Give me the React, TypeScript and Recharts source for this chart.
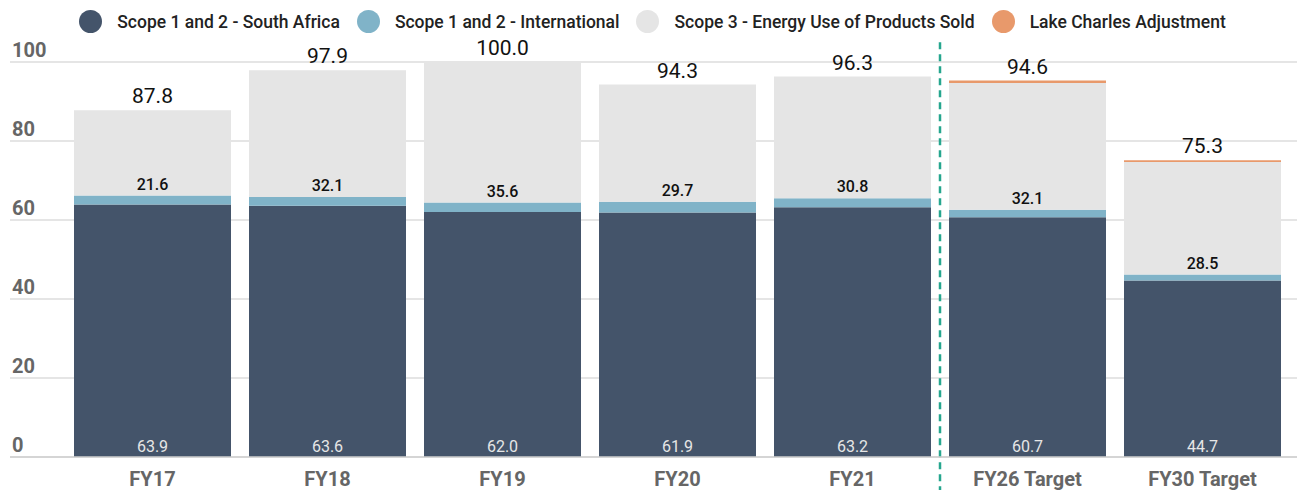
import React from 'react';
import {
	BarChart,
	Bar,
	XAxis,
	YAxis,
	CartesianGrid,
	Legend,
	LabelList,
	ReferenceLine,
} from 'recharts';

const categories = ['FY17', 'FY18', 'FY19', 'FY20', 'FY21', 'FY26 Target', 'FY30 Target'];
const southAfrica = [63.9, 63.6, 62.0, 61.9, 63.2, 60.7, 44.7];
const international = [2.3, 2.2, 2.4, 2.7, 2.3, 1.9, 1.5];
const scope3 = [21.6, 32.1, 35.6, 29.7, 30.8, 32.1, 28.5];
const lakeCharles = [0, 0, 0, 0, 0, 0.6, 0.4];
const totals = [87.8, 97.9, 100.0, 94.3, 96.3, 94.6, 75.3];
const yTicks = [0, 20, 40, 60, 80, 100];

const series = [
	{ key: 'sa', name: 'Scope 1 and 2 - South Africa', color: '#44546a' },
	{ key: 'intl', name: 'Scope 1 and 2 - International', color: '#80b3c8' },
	{ key: 'scope3', name: 'Scope 3 - Energy Use of Products Sold', color: '#e5e5e5' },
	{ key: 'lake', name: 'Lake Charles Adjustment', color: '#e8996b' },
];

const data = categories.map((name, i) => ({
	name,
	sa: southAfrica[i],
	intl: international[i],
	scope3: scope3[i],
	lake: lakeCharles[i],
	total: totals[i],
}));

const FONT = 'Roboto, "Noto Sans", sans-serif';

// legend row across the top
const TopLegend = () => (
	<div
		style={{
			height: 62,
			display: 'flex',
			justifyContent: 'center',
			alignItems: 'flex-start',
			paddingTop: 10,
			paddingLeft: 8,
			boxSizing: 'border-box',
			fontFamily: FONT,
		}}
	>
		{series.map((s, i) => (
			<div
				key={s.key}
				style={{ display: 'flex', alignItems: 'center', marginRight: i < series.length - 1 ? 17 : 0 }}
			>
				<div
					style={{
						width: 23,
						height: 23,
						borderRadius: '50%',
						background: s.color,
						marginRight: 15,
					}}
				/>
				<span style={{ fontSize: 17.5, color: '#222', fontWeight: 500 }}>{s.name}</span>
			</div>
		))}
	</div>
);

const YTick = (props: any) => {
	const { y, payload } = props;
	return (
		<text x={12} y={y - 5} fill='#666' fontSize={20} fontWeight={700} fontFamily={FONT} textAnchor='start'>
			{payload.value}
		</text>
	);
};

const XTick = (props: any) => {
	const { x, y, payload } = props;
	return (
		<text x={x} y={y + 21} fill='#666' fontSize={20} fontWeight={700} fontFamily={FONT} textAnchor='middle'>
			{payload.value}
		</text>
	);
};

const SaLabel = (props: any) => {
	const { x, y, width, height, value } = props;
	return (
		<text x={x + width / 2} y={y + height - 5} fill='#e6e6e6' fontSize={16} fontFamily={FONT} textAnchor='middle'>
			{Number(value).toFixed(1)}
		</text>
	);
};

const Scope3Label = (props: any) => {
	const { x, y, width, height, value } = props;
	return (
		<text x={x + width / 2} y={y + height - 6} fill='#111' fontSize={16} fontWeight={500} fontFamily={FONT} textAnchor='middle'>
			{Number(value).toFixed(1)}
		</text>
	);
};

// total sits above the whole stack (scope 3 top plus the thin adjustment)
const TotalLabel = (props: any) => {
	const { x, y, width, height, index } = props;
	const pxPerUnit = height / scope3[index];
	const lakePx = lakeCharles[index] * pxPerUnit;
	return (
		<text x={x + width / 2} y={y - lakePx - 7} fill='#111' fontSize={21} fontFamily={FONT} textAnchor='middle'>
			{totals[index].toFixed(1)}
		</text>
	);
};

const App = () => {
	return (
		<div style={{ position: 'absolute', left: 0, top: 0, width: 1300, height: 490, background: '#fff' }}>
			<BarChart
				width={1300}
				height={490}
				data={data}
				margin={{ top: 0, right: 3, bottom: 0, left: 0 }}
				barSize={157}
			>
				<CartesianGrid vertical={false} stroke='#dcdcdc' strokeWidth={1.5} />
				<Legend verticalAlign='top' content={() => <TopLegend />} />
				<XAxis
					dataKey='name'
					height={33}
					padding={{ left: 55, right: 7 }}
					axisLine={{ stroke: '#cfcfcf', strokeWidth: 1.5 }}
					tickLine={false}
					tick={<XTick />}
					interval={0}
				/>
				<YAxis
					width={10}
					domain={[0, 100]}
					ticks={yTicks}
					axisLine={false}
					tickLine={false}
					tick={<YTick />}
				/>
				<Bar dataKey='sa' stackId='a' fill={series[0].color} name={series[0].name} isAnimationActive={false}>
					<LabelList dataKey='sa' content={<SaLabel />} />
				</Bar>
				<Bar dataKey='intl' stackId='a' fill={series[1].color} name={series[1].name} isAnimationActive={false} />
				<Bar dataKey='scope3' stackId='a' fill={series[2].color} name={series[2].name} isAnimationActive={false}>
					<LabelList dataKey='scope3' content={<Scope3Label />} />
					<LabelList dataKey='total' content={<TotalLabel />} />
				</Bar>
				<Bar dataKey='lake' stackId='a' fill={series[3].color} name={series[3].name} isAnimationActive={false} />
				<ReferenceLine
					segment={[
						{ x: 'FY26 Target', y: 105 },
						{ x: 'FY26 Target', y: -8.5 },
					]}
					position='start'
					ifOverflow='visible'
					stroke='#26a68e'
					strokeWidth={2.5}
					strokeDasharray='7 5'
				/>
			</BarChart>
		</div>
	);
};

export default App;
